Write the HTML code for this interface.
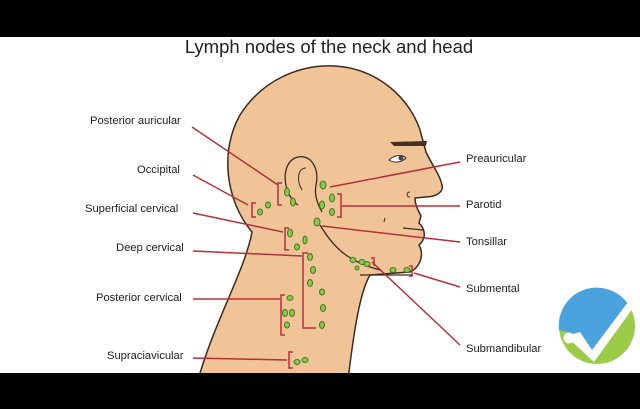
<!DOCTYPE html>
<html><head><style>
html,body{margin:0;padding:0;}
body{width:640px;height:409px;background:#000;position:relative;overflow:hidden;font-family:"Liberation Sans",sans-serif;}
.w{position:absolute;left:0;top:37px;width:640px;height:336px;background:#fff;}
.t{position:absolute;left:0;width:658px;text-align:center;top:36px;font-size:18.5px;color:#222;}
.l{position:absolute;font-size:11.2px;color:#222;white-space:nowrap;}
</style></head><body>
<div class="w"></div>
<svg width="640" height="409" style="position:absolute;left:0;top:0">
<defs><clipPath id="c"><rect x="0" y="37" width="640" height="336"/></clipPath></defs>
<g clip-path="url(#c)">
<path d="M198,380 C215,320 245,270 252,232 C225,200 220,150 240,115 C262,80 300,64 335,66 C380,69 410,100 420,130 L426,152 C432,165 440,175 442,185 C444,192 436,197 425,197 L415,198 C415,205 418,210 421,216 L419,223 C427,231 425,240 419,245 C425,256 419,268 410,272 L370,275 C360,292 354,330 348,380 Z" fill="#f1c497" stroke="#3a2a20" stroke-width="1.5"/>
<path d="M298,205 C283,195 280,165 295,158 C310,152 320,168 316,185 C314,195 318,205 322,212" fill="none" stroke="#3a2a20" stroke-width="1.3"/>
<path d="M302,190 C296,180 298,168 306,168" fill="none" stroke="#3a2a20" stroke-width="1"/>
<path d="M390,142 L427,141 L426,146 L394,146 Z" fill="#4a3020"/>
<path d="M389,160 C394,155 402,154 406,158 C401,163 394,163 389,160 Z" fill="#fff" stroke="#3a2a20" stroke-width="1"/>
<circle cx="401" cy="158" r="2.5" fill="#445"/>
<path d="M410,197 C406,197 406,192 410,192" fill="none" stroke="#3a2a20"/>
<path d="M403,228 L423,230" stroke="#3a2a20" stroke-width="1.3"/>
<path d="M320,225 C335,250 350,262 380,270" fill="none" stroke="#3a2a20" stroke-width="1.3"/>
<path d="M360,275 L413,275" stroke="#3a2a20" stroke-width="1.3"/>
<path d="M385,218 l-1,4" stroke="#3a2a20"/>
</g>
<g stroke="#b5303a" stroke-width="1.5" fill="none">
<path d="M192,127 L278,185"/><path d="M282,183 h-4 v22 h4"/>
<path d="M193,175 L248,205"/><path d="M256,203 h-4 v14 h4"/>
<path d="M193,213 L283,232"/><path d="M289,228 h-4 v22 h4"/>
<path d="M193,251 L302,256"/><path d="M308,253 h-5 v75 h13"/>
<path d="M193,299 L280,299"/><path d="M285,295 h-4 v40 h4"/>
<path d="M193,358 L287,360"/><path d="M293,352 h-4 v16 h4"/>
<path d="M460,162 L330,187"/>
<path d="M460,206 L342,206"/><path d="M337,194 h4 v23 h-4"/>
<path d="M460,242 L322,226"/>
<path d="M460,287 L414,273"/><path d="M409,266 h3 v10 h-3"/>
<path d="M460,345 L372,262"/><path d="M371,258 h3 v8"/>
</g>
<g fill="#8dc64a" stroke="#3d7a20" stroke-width="1">
<ellipse cx="287" cy="192" rx="2.5" ry="4"/><ellipse cx="293" cy="202" rx="2.5" ry="4"/>
<ellipse cx="323" cy="185" rx="3" ry="4"/><ellipse cx="332" cy="198" rx="2.5" ry="4"/>
<ellipse cx="322" cy="205" rx="2.5" ry="4"/><ellipse cx="332" cy="212" rx="2.5" ry="3.5"/>
<ellipse cx="317" cy="222" rx="3" ry="4"/><ellipse cx="260" cy="212" rx="2.5" ry="3"/>
<ellipse cx="268" cy="205" rx="2.5" ry="3"/><ellipse cx="290" cy="233" rx="2.5" ry="4"/>
<ellipse cx="297" cy="247" rx="2.5" ry="3"/><ellipse cx="305" cy="240" rx="2" ry="4"/>
<ellipse cx="310" cy="257" rx="2.5" ry="3.5"/><ellipse cx="313" cy="270" rx="2.5" ry="3.5"/>
<ellipse cx="310" cy="283" rx="2.5" ry="3.5"/><ellipse cx="322" cy="292" rx="2.5" ry="3"/>
<ellipse cx="323" cy="308" rx="2.5" ry="3.5"/><ellipse cx="322" cy="325" rx="2.5" ry="3.5"/>
<ellipse cx="290" cy="298" rx="3" ry="2.5"/><ellipse cx="285" cy="313" rx="2.5" ry="3.5"/>
<ellipse cx="292" cy="313" rx="2.5" ry="3.5"/><ellipse cx="287" cy="325" rx="2.5" ry="3"/>
<ellipse cx="297" cy="362" rx="3" ry="2.5"/><ellipse cx="305" cy="360" rx="3" ry="2.5"/>
<ellipse cx="353" cy="260" rx="3" ry="2.5"/><ellipse cx="362" cy="262" rx="3" ry="2.5"/>
<ellipse cx="357" cy="268" rx="2" ry="2"/><ellipse cx="367" cy="264" rx="3" ry="2.5"/>
<ellipse cx="393" cy="270" rx="3" ry="2.5"/><ellipse cx="407" cy="270" rx="3" ry="2.5"/>
</g>
<g>
<circle cx="597" cy="326" r="41" fill="#fff"/>
<circle cx="597" cy="326" r="38" fill="#9ccb4a"/>
<path d="M559,330 A38,38 0 0 1 628,304 L594,352 C585,340 572,332 559,330 Z" fill="#4aa3dc"/>
<path d="M566,336 L580,332 L592,350 L628,302 L633,308 L594,362 Z" fill="#fff"/>
<circle cx="569" cy="338" r="5.5" fill="#fff"/>
</g>
</svg>
<div class="t">Lymph nodes of the neck and head</div>
<div class="l" style="left:90px;top:115px">Posterior auricular</div>
<div class="l" style="left:137px;top:164px">Occipital</div>
<div class="l" style="left:85px;top:203px">Superficial cervical</div>
<div class="l" style="left:116px;top:242px">Deep cervical</div>
<div class="l" style="left:96px;top:292px">Posterior cervical</div>
<div class="l" style="left:107px;top:350px">Supraciavicular</div>
<div class="l" style="left:466px;top:153px">Preauricular</div>
<div class="l" style="left:466px;top:199px">Parotid</div>
<div class="l" style="left:466px;top:236px">Tonsillar</div>
<div class="l" style="left:466px;top:283px">Submental</div>
<div class="l" style="left:466px;top:343px">Submandibular</div>
</body></html>
